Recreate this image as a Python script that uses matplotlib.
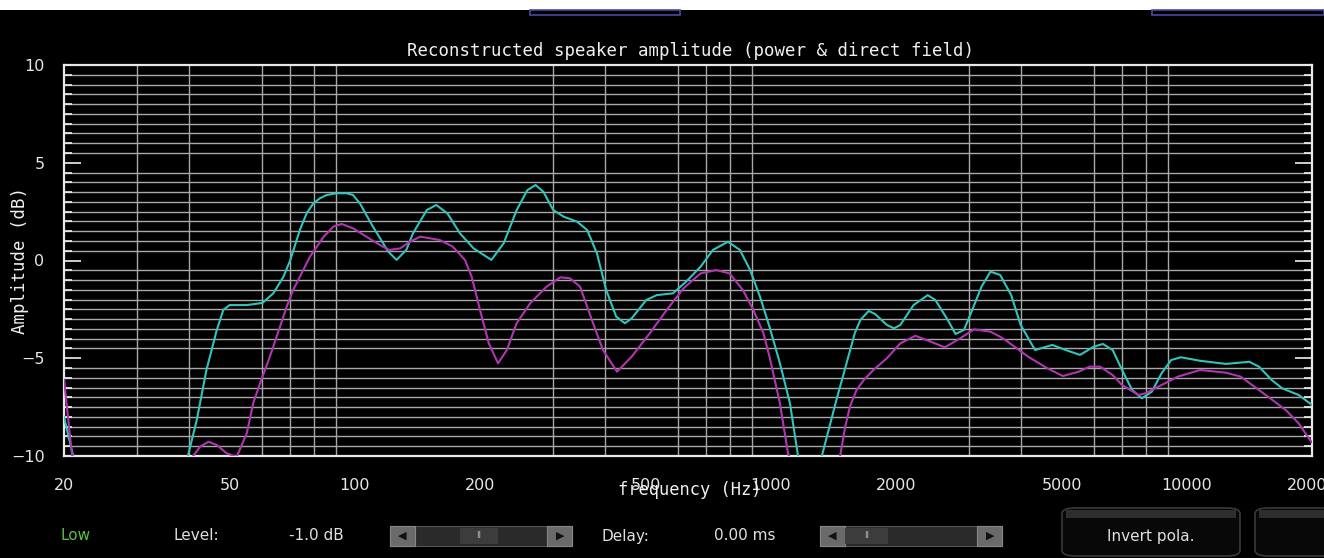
import numpy as np
import matplotlib
matplotlib.use("Agg")
import matplotlib.pyplot as plt
from matplotlib.patches import Rectangle, FancyBboxPatch
from matplotlib.ticker import FixedLocator, NullFormatter

# ---- data ----
cyan_f = [20, 21.2, 30, 39.5, 41.7, 44, 46.6, 48.3, 50, 55, 60, 63.7, 67.4, 70, 73.8, 76.6,
          79.5, 82.4, 85.6, 90.5, 95.6, 99, 102.9, 106.6, 110.6, 115, 120.4, 126, 133, 138,
          149, 157, 167, 179, 193, 213, 228, 245, 260, 272, 284, 300, 318, 342, 362, 382,
          402, 425, 446, 463, 502, 532, 582, 626, 678, 726, 789, 843, 892, 942, 993, 1052,
          1112, 1162, 1240, 1323, 1438, 1498, 1592, 1642, 1720, 1782, 1902, 1978, 2048,
          2204, 2384, 2486, 2664, 2780, 2914, 3050, 3210, 3374, 3560, 3784, 3988, 4318,
          4750, 5120, 5538, 5972, 6284, 6636, 6990, 7388, 7800, 8240, 8700, 9172, 9680,
          10768, 12420, 14140, 14910, 16000, 16960, 18580, 20000]
cyan_db = [-8.0, -10.3, -14, -10.2, -8.16, -5.6, -3.55, -2.53, -2.28, -2.28, -2.17, -1.68,
           -0.83, 0.03, 1.56, 2.41, 2.92, 3.18, 3.35, 3.44, 3.44, 3.35, 2.92, 2.33, 1.73, 1.14,
           0.45, 0.03, 0.54, 1.39, 2.58, 2.84, 2.41, 1.39, 0.62, 0.03, 0.88, 2.58, 3.6, 3.86,
           3.52, 2.58, 2.24, 1.99, 1.56, 0.37, -1.5, -2.87, -3.21, -2.96, -2.02, -1.77, -1.68,
           -1.08, -0.32, 0.54, 0.96, 0.54, -0.49, -1.85, -3.39, -5.26, -7.3, -9.95, -12,
           -10.1, -7.14, -5.77, -3.72, -3.04, -2.58, -2.74, -3.3, -3.47, -3.3, -2.28, -1.77,
           -2.02, -3.04, -3.76, -3.55, -2.53, -1.34, -0.57, -0.74, -1.77, -3.3, -4.58, -4.32,
           -4.58, -4.83, -4.41, -4.27, -4.58, -5.6, -6.62, -7.05, -6.71, -5.77, -5.09, -4.95,
           -5.13, -5.29, -5.18, -5.43, -6.11, -6.54, -6.88, -7.39]

mag_f = [20, 21, 30, 40.9, 42.5, 44.5, 46.6, 49.2, 52, 55, 57, 59.2, 62.5, 66.1, 68.6, 71.1,
         73.8, 78, 84.2, 88.8, 93, 99, 106.6, 115, 121, 128.6, 135.6, 143.7, 160, 172, 184,
         191, 200, 210, 221, 232, 245, 264, 289, 312, 329, 348, 374, 395, 427, 463, 512,
         562, 617, 678, 740, 796, 857, 908, 960, 993, 1052, 1100, 1250, 1468, 1510, 1550,
         1608, 1674, 1765, 1902, 2048, 2226, 2420, 2620, 2854, 3080, 3374, 3560, 3710,
         4156, 4620, 5036, 5492, 5840, 6190, 6636, 6990, 7660, 7960, 8386, 9016, 9520,
         10768, 12420, 13480, 14360, 15480, 17300, 18580, 19660, 20000]
mag_db = [-6.1, -10.3, -14, -10.0, -9.52, -9.27, -9.44, -9.86, -10.05, -8.84, -7.3, -6.28,
          -4.92, -3.39, -2.36, -1.51, -0.83, 0.19, 1.22, 1.73, 1.87, 1.65, 1.22, 0.79, 0.54,
          0.62, 0.96, 1.22, 1.05, 0.71, 0.03, -0.83, -2.53, -4.24, -5.26, -4.58, -3.21,
          -2.19, -1.34, -0.86, -0.91, -1.34, -3.21, -4.58, -5.69, -4.92, -3.72, -2.53, -1.42,
          -0.66, -0.49, -0.66, -1.51, -2.53, -3.72, -4.92, -7.3, -9.86, -13, -10.0, -8.5,
          -7.47, -6.62, -6.11, -5.6, -5.0, -4.24, -3.85, -4.15, -4.44, -3.98, -3.52, -3.64,
          -3.9, -4.15, -4.92, -5.51, -5.91, -5.69, -5.43, -5.43, -5.86, -6.37, -6.88, -6.79,
          -6.54, -6.2, -5.94, -5.6, -5.74, -5.94, -6.37, -6.88, -7.65, -8.33, -9.1, -9.3]

x_tick_vals = [20, 50, 100, 200, 500, 1000, 2000, 5000, 10000, 20000]
x_tick_labels = ["20", "50", "100", "200", "500", "1000", "2000", "5000", "10000", "20000"]
y_tick_vals = [-10, -5, 0, 5, 10]
y_tick_labels = ["\u221210", "\u22125", "0", "5", "10"]

title = "Reconstructed speaker amplitude (power & direct field)"
xlabel = "frequency (Hz)"
ylabel = "Amplitude (dB)"

# ---- figure ----
W, H = 1324, 558
fig = plt.figure(figsize=(W / 100, H / 100), dpi=100, facecolor="black")

def fx(x):
    return x / W

def fy(y):
    return 1 - y / H

ax = fig.add_axes([fx(64), fy(456), fx(1312) - fx(64), fy(65) - fy(456)])
ax.set_facecolor("black")
ax.set_xscale("log")
ax.set_xlim(20, 20000)
ax.set_ylim(-10, 10)

minor_x = [m * d for d in (10, 100, 1000, 10000) for m in range(1, 10) if 20 <= m * d <= 20000]
ax.xaxis.set_major_locator(FixedLocator(x_tick_vals))
ax.set_xticklabels(x_tick_labels)
ax.xaxis.set_minor_locator(FixedLocator(minor_x))
ax.xaxis.set_minor_formatter(NullFormatter())
ax.set_yticks(y_tick_vals)
ax.set_yticklabels(y_tick_labels)
ax.yaxis.set_minor_locator(FixedLocator(np.arange(-10, 10.01, 0.5)))

ax.grid(True, which="minor", axis="both", color="#a8a8a8", lw=1.0)
ax.grid(False, which="major")
ax.set_axisbelow(True)

ax.tick_params(axis="both", which="major", colors="#e6e6e6", labelsize=11.5, direction="in",
               length=0)
ax.tick_params(axis="y", which="major", length=12, width=1.2, left=True, right=True,
               color="#f0f0f0", pad=14)
ax.tick_params(axis="y", which="minor", length=6, width=1.2, left=True, right=True,
               color="#f0f0f0", direction="in")
ax.tick_params(axis="x", which="major", pad=16)
ax.tick_params(axis="x", which="minor", length=0)
for lab in ax.get_xticklabels() + ax.get_yticklabels():
    lab.set_color("#e6e6e6")

for s in ax.spines.values():
    s.set_color("#e8e8e8")
    s.set_linewidth(1.6)

ax.plot(cyan_f, cyan_db, color="#32c4bc", lw=1.5, zorder=3, solid_joinstyle="round")
ax.plot(mag_f, mag_db, color="#b036b0", lw=1.5, zorder=3, solid_joinstyle="round")

mono = "DejaVu Sans Mono"
fig.text(fx(690), fy(51), title, color="#f0f0f0", fontsize=12.5, family=mono,
         ha="center", va="center")
fig.text(fx(690), fy(490), xlabel, color="#f0f0f0", fontsize=12.3, family=mono,
         ha="center", va="center")
fig.text(fx(20), fy(260), ylabel, color="#f0f0f0", fontsize=12.5, family=mono,
         ha="center", va="center", rotation=90)

# ---- top strip (cut-off widgets) ----
fig.add_artist(Rectangle((0, fy(10)), 1, 10 / H, transform=fig.transFigure,
                         facecolor="white", edgecolor="none"))
fig.add_artist(Rectangle((fx(530), fy(15)), fx(150), 5 / H, transform=fig.transFigure,
                         facecolor="none", edgecolor="#4a4aa0", lw=1.2))
fig.add_artist(Rectangle((fx(1152), fy(15)), fx(172), 5 / H, transform=fig.transFigure,
                         facecolor="none", edgecolor="#4a4aa0", lw=1.2))

# ---- bottom controls ----
sans = "DejaVu Sans"
fig.text(fx(76), fy(536), "Low", color="#5cc040", fontsize=11, family=sans, va="center",
         ha="center")
fig.text(fx(196), fy(536), "Level:", color="#e0e0e0", fontsize=11, family=sans, va="center",
         ha="center")
fig.text(fx(316), fy(536), "-1.0 dB", color="#e0e0e0", fontsize=11, family=sans,
         va="center", ha="center")
fig.text(fx(625), fy(536), "Delay:", color="#e0e0e0", fontsize=11, family=sans, va="center",
         ha="center")
fig.text(fx(745), fy(536), "0.00 ms", color="#e0e0e0", fontsize=11, family=sans,
         va="center", ha="center")


def slider(x0, x1, thumb0, thumb1):
    y0, y1 = 526, 546
    fig.add_artist(Rectangle((fx(x0), fy(y1)), fx(x1 - x0), (y1 - y0) / H,
                             transform=fig.transFigure, facecolor="#2a2a2a",
                             edgecolor="#555555", lw=0.8))
    for a, b in ((x0, x0 + 25), (x1 - 25, x1)):
        fig.add_artist(Rectangle((fx(a), fy(y1)), fx(b - a), (y1 - y0) / H,
                                 transform=fig.transFigure, facecolor="#6a6a6a",
                                 edgecolor="#888888", lw=0.8))
    fig.text(fx(x0 + 12), fy(536), "\u25C0", color="#111111", fontsize=8, ha="center",
             va="center", family=sans)
    fig.text(fx(x1 - 12), fy(536), "\u25B6", color="#111111", fontsize=8, ha="center",
             va="center", family=sans)
    fig.add_artist(Rectangle((fx(thumb0), fy(y1 - 2)), fx(thumb1 - thumb0), (y1 - y0 - 4) / H,
                             transform=fig.transFigure, facecolor="#3c3c3c",
                             edgecolor="none"))
    fig.text(fx((thumb0 + thumb1) / 2), fy(536), "II", color="#bbbbbb", fontsize=6,
             ha="center", va="center", family=sans)


slider(390, 572, 460, 498)
slider(820, 1002, 845, 888)

fig.add_artist(FancyBboxPatch((fx(1062), fy(556)), fx(178), 48 / H,
                              boxstyle="round,pad=0,rounding_size=0.01",
                              transform=fig.transFigure, facecolor="#080808",
                              edgecolor="#3a3a3a", lw=1.2))
fig.add_artist(Rectangle((fx(1066), fy(518)), fx(170), 8 / H, transform=fig.transFigure,
                         facecolor="#2e2e2e", edgecolor="none"))
fig.text(fx(1151), fy(536), "Invert pola.", color="#e0e0e0", fontsize=11, family=sans,
         ha="center", va="center")
fig.add_artist(FancyBboxPatch((fx(1255), fy(556)), fx(80), 48 / H,
                              boxstyle="round,pad=0,rounding_size=0.01",
                              transform=fig.transFigure, facecolor="#080808",
                              edgecolor="#3a3a3a", lw=1.2))
fig.add_artist(Rectangle((fx(1259), fy(518)), fx(70), 8 / H, transform=fig.transFigure,
                         facecolor="#2e2e2e", edgecolor="none"))

fig.savefig("out.png", dpi=100, facecolor="black")
